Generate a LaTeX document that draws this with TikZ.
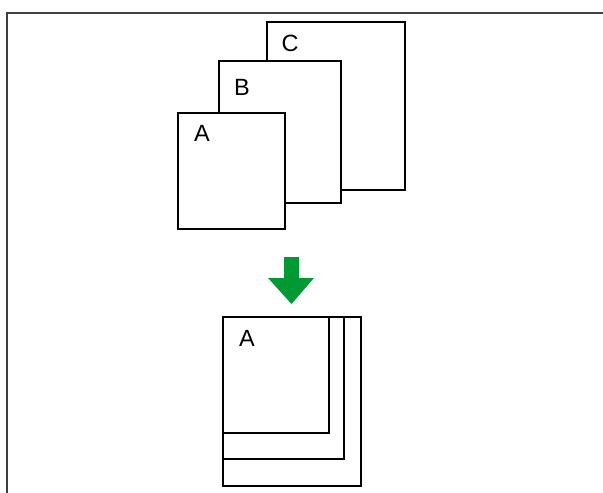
\documentclass[tikz,border=0pt]{standalone}
\usepackage{fontspec}
\setmainfont{Liberation Sans}
\usepackage{tikz}
\usepackage{xcolor}
\definecolor{framegray}{HTML}{404040}
\definecolor{arrowgreen}{HTML}{009933}

\begin{document}
\begin{tikzpicture}[x=1pt,y=-1pt,line width=2.6pt]
  \tikzset{sheet/.style={draw=black,fill=white},
           lbl/.style={font=\fontsize{23.5}{26}\selectfont,inner sep=0pt}}
  \useasboundingbox (0,0) rectangle (603,493);
  % frame
  \draw[framegray,line width=2pt] (7,493) -- (7,13) -- (603,13);
  % stacked sheets
  \draw[sheet] (267,22) rectangle (405,190);
  \node[lbl] (labelC) at (290,43) {C};
  \draw[sheet] (219,61) rectangle (341,203);
  \node[lbl] (labelB) at (242,87) {B};
  \draw[sheet] (178,113) rectangle (285,229);
  \node[lbl] (labelA) at (202,133.5) {A};
  % arrow
  \fill[arrowgreen] (284,257) -- (299,257) -- (299,278) -- (314,278)
    -- (291.5,304) -- (268,278) -- (284,278) -- cycle;
  % aligned sheets
  \draw[sheet] (223,317) rectangle (361,486);
  \draw[sheet] (223,317) rectangle (344,459);
  \draw[sheet] (223,317) rectangle (329,433);
  \node[lbl] (labelAA) at (247,338.5) {A};
\end{tikzpicture}
\end{document}
